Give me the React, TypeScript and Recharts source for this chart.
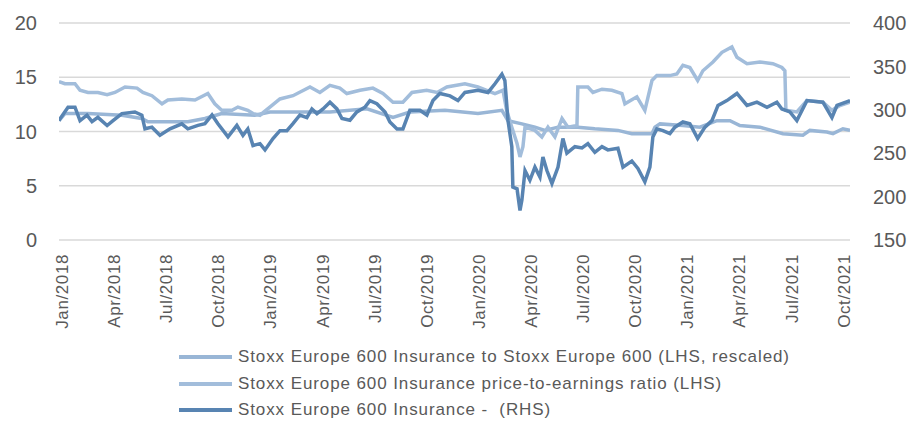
import { CartesianGrid, Line, LineChart, XAxis, YAxis } from "recharts";

// x positions are months since Jan 2018 (0 = Jan/2018)
const tickMonths = [0, 3, 6, 9, 12, 15, 18, 21, 24, 27, 30, 33, 36, 39, 42, 45];
const tickLabels = [
  "Jan/2018", "Apr/2018", "Jul/2018", "Oct/2018",
  "Jan/2019", "Apr/2019", "Jul/2019", "Oct/2019",
  "Jan/2020", "Apr/2020", "Jul/2020", "Oct/2020",
  "Jan/2021", "Apr/2021", "Jul/2021", "Oct/2021",
];
const leftTicks = [0, 5, 10, 15, 20];
const rightTicks = [150, 200, 250, 300, 350, 400];

// Stoxx Europe 600 Insurance to Stoxx Europe 600 (LHS, rescaled)
const relMonths = [
  -0.17, 0.17, 1.5, 3.45, 4.6, 4.95, 7.25, 8.23, 9.2, 11.1, 11.97, 15.43, 17.56,
  19.06, 20.03, 22.05, 23.95, 25.33, 25.68, 26.48, 27.23, 27.8, 28.56, 29.7, 30.68,
  32.01, 32.81, 33.97, 34.14, 34.43, 35.75, 36.73, 37.71, 38.46, 39.03, 40.18,
  41.51, 42.66, 43.06, 44.04, 44.39, 44.96, 45.37,
];
const relValues = [
  11.0, 11.65, 11.65, 11.5, 11.2, 10.9, 10.9, 11.2, 11.65, 11.5, 11.8, 11.8, 12.1,
  11.3, 11.8, 11.95, 11.65, 11.95, 11.0, 10.7, 10.4, 10.1, 10.4, 10.4, 10.25,
  10.1, 9.8, 9.8, 10.4, 10.7, 10.55, 10.4, 11.0, 11.0, 10.55, 10.4,
  9.8, 9.65, 10.1, 9.95, 9.8, 10.25, 10.1,
];

// Stoxx Europe 600 Insurance price-to-earnings ratio (LHS)
const peMonths = [
  -0.17, 0.17, 0.75, 1.04, 1.5, 2.07, 2.6, 3.05, 3.63, 4.32, 4.66, 5.18, 5.76, 6.1,
  6.9, 7.66, 8.4, 8.8, 9.2, 9.79, 10.13, 10.7, 11.0, 11.4, 11.97, 12.55, 13.3,
  14.28, 14.85, 15.43, 16.0, 16.4, 17.16, 17.9, 18.48, 19.06, 19.63, 20.15, 21.0,
  21.6, 22.16, 23.2, 23.95, 24.93, 25.39, 25.6, 25.9, 26.2, 26.37, 26.54, 26.66,
  27.23, 27.63, 27.98, 28.38, 28.79, 29.13, 29.65, 29.7, 30.28, 30.57, 31.09,
  31.66, 32.24, 32.41, 33.1, 33.56, 33.97, 34.25, 35.0, 35.4, 35.75, 36.15, 36.6,
  36.9, 37.48, 38.0, 38.57, 38.86, 39.44, 40.18, 40.93, 41.45, 41.62, 41.68,
  42.31, 42.89, 43.81, 44.33, 44.79, 45.37,
];
const peValues = [
  14.6, 14.4, 14.4, 13.8, 13.6, 13.6, 13.4, 13.6, 14.1, 14.0, 13.6, 13.3, 12.55, 12.9,
  13.0, 12.9, 13.5, 12.55, 11.95, 11.95, 12.25, 11.95, 11.65, 11.5, 12.25, 13.0, 13.3,
  14.1, 13.6, 14.25, 14.0, 13.5, 13.8, 14.0, 13.5, 12.7, 12.7, 13.6, 13.8,
  13.6, 14.1, 14.4, 14.1, 13.5, 13.8, 11.95, 10.4, 8.9, 7.65, 8.6, 10.4,
  10.1, 9.5, 10.4, 9.5, 11.2, 10.4, 10.55, 14.1, 14.1, 13.6, 13.9,
  13.8, 13.5, 12.55, 13.2, 11.95, 14.7, 15.15, 15.15, 15.3, 16.1, 15.9, 14.7,
  15.6, 16.4, 17.3, 17.8, 16.85, 16.25, 16.4, 16.25, 15.9, 15.6, 11.95,
  11.8, 12.85, 12.7, 11.95, 12.4, 12.7,
];

// Stoxx Europe 600 Insurance (RHS)
const idxMonths = [
  -0.17, -0.1, 0.35, 0.75, 1.04, 1.44, 1.73, 2.07, 2.6, 2.94, 3.45, 4.2, 4.6, 4.78,
  5.18, 5.64, 6.22, 6.9, 7.25, 7.83, 8.23, 8.64, 8.98, 9.56, 10.07, 10.42, 10.7,
  11.0, 11.4, 11.69, 12.15, 12.55, 12.95, 13.3, 13.7, 14.1, 14.39, 14.68, 15.03,
  15.43, 15.83, 16.12, 16.58, 16.98, 17.44, 17.73, 18.13, 18.6, 18.88, 19.29,
  19.63, 20.03, 20.61, 21.01, 21.36, 21.76, 22.34, 22.8, 23.2, 23.95, 24.53,
  24.93, 25.33, 25.5, 25.68, 25.9, 25.96, 26.2, 26.37, 26.48, 26.66, 26.94, 27.23,
  27.52, 27.69, 27.92, 28.21, 28.56, 28.84, 29.07, 29.53, 29.94, 30.28, 30.68,
  31.09, 31.43, 32.01, 32.3, 32.81, 33.16, 33.56, 33.85, 34.02, 34.25, 34.6, 35.0,
  35.29, 35.75, 36.15, 36.6, 37.02, 37.42, 37.77, 38.28, 38.86, 39.44, 40.01,
  40.59, 41.16, 41.45, 41.91, 42.31, 42.89, 43.81, 44.33, 44.62, 45.37,
];
const idxValues = [
  287.5, 290, 303, 303, 287.5, 293.8, 286.3, 291.3, 281.9, 287.5, 295.6, 297.5, 293.8, 278.1,
  280, 270.6, 278, 283.8, 278, 282, 284, 294, 284, 268.8, 282, 270.6, 278,
  258.8, 261, 253.8, 266.9, 276, 276, 284, 294, 291, 301, 295.6, 301,
  308.8, 301, 290, 288, 297.5, 303, 310.6, 307, 297.5, 286, 278,
  278, 299.4, 299.4, 294, 310.6, 318.8, 316, 310.6, 320, 322.5, 320,
  330, 341, 333.8, 287.5, 257.5, 211, 209, 184, 196, 230, 218.8, 234,
  222.5, 245.6, 230, 215, 234, 267, 250, 257.5, 256, 261, 251,
  257.5, 253.8, 255.6, 234, 241, 232.5, 217, 234, 268.8, 278, 276, 272.5,
  280, 286, 284, 267, 280, 287.5, 305, 310.6, 318.8, 305, 308.8,
  303, 308.8, 301, 297.5, 287.5, 310.6, 308.8, 291, 305, 310.6,
];

const relData = relMonths.map((m, i) => ({ m, v: relValues[i] }));
const peData = peMonths.map((m, i) => ({ m, v: peValues[i] }));
const idxData = idxMonths.map((m, i) => ({ m, v: idxValues[i] }));

const series = [
  { name: "Stoxx Europe 600 Insurance to Stoxx Europe 600 (LHS, rescaled)", color: "#99b6d6" },
  { name: "Stoxx Europe 600 Insurance price-to-earnings ratio (LHS)", color: "#a2bddb" },
  { name: "Stoxx Europe 600 Insurance -  (RHS)", color: "#5884b2" },
];

const TEXT = "#595959";
const FONT = "'Liberation Sans', Arial, sans-serif";

function MonthTick(props: any) {
  const { x, y, payload } = props;
  const idx = tickMonths.indexOf(payload.value);
  const ty = y + 6;
  return (
    <text
      x={x}
      y={ty}
      transform={`rotate(-90, ${x}, ${ty})`}
      textAnchor="end"
      dy="0.36em"
      fill={TEXT}
      fontSize={17}
      fontFamily="'Liberation Sans Narrow', 'Liberation Sans', sans-serif"
      style={{ letterSpacing: 0.6 }}
    >
      {tickLabels[idx]}
    </text>
  );
}

export default function App() {
  return (
    <div style={{ position: "absolute", left: 0, top: 0, width: 910, height: 421, background: "#fff", fontFamily: FONT }}>
      <LineChart width={910} height={421} margin={{ top: 23, right: 0, bottom: 86, left: 0 }}>
        <CartesianGrid vertical={false} stroke="#d9d9d9" strokeWidth={1.5} yAxisId="left" />
        <XAxis
          dataKey="m"
          type="number"
          domain={[-0.17, 45.37]}
          ticks={tickMonths}
          interval={0}
          height={95}
          axisLine={false}
          tickLine={false}
          tick={<MonthTick />}
          allowDataOverflow
        />
        <YAxis
          yAxisId="left"
          domain={[0, 20]}
          ticks={leftTicks}
          width={59}
          axisLine={false}
          tickLine={false}
          tickSize={0}
          tickMargin={22}
          tick={{ fill: TEXT, fontSize: 20, fontFamily: FONT }}
        />
        <YAxis
          yAxisId="right"
          orientation="right"
          domain={[150, 400]}
          ticks={rightTicks}
          width={60}
          axisLine={false}
          tickLine={false}
          tickSize={0}
          tickMargin={23}
          tick={{ fill: TEXT, fontSize: 20, fontFamily: FONT }}
        />
        <Line
          yAxisId="left"
          data={relData}
          dataKey="v"
          stroke={series[0].color}
          strokeWidth={3.5}
          dot={false}
          type="linear"
          isAnimationActive={false}
        />
        <Line
          yAxisId="left"
          data={peData}
          dataKey="v"
          stroke={series[1].color}
          strokeWidth={3.5}
          dot={false}
          type="linear"
          isAnimationActive={false}
        />
        <Line
          yAxisId="right"
          data={idxData}
          dataKey="v"
          stroke={series[2].color}
          strokeWidth={3.5}
          dot={false}
          type="linear"
          isAnimationActive={false}
        />
      </LineChart>
      <div style={{ position: "absolute", left: 179, top: 344 }}>
        {series.map((s) => (
          <div key={s.name} style={{ display: "flex", alignItems: "center", height: 26.5 }}>
            <div style={{ width: 53, height: 4, background: s.color, marginRight: 6 }} />
            <span style={{ fontSize: 17, color: TEXT, whiteSpace: "pre", letterSpacing: 0.9 }}>{s.name}</span>
          </div>
        ))}
      </div>
    </div>
  );
}
